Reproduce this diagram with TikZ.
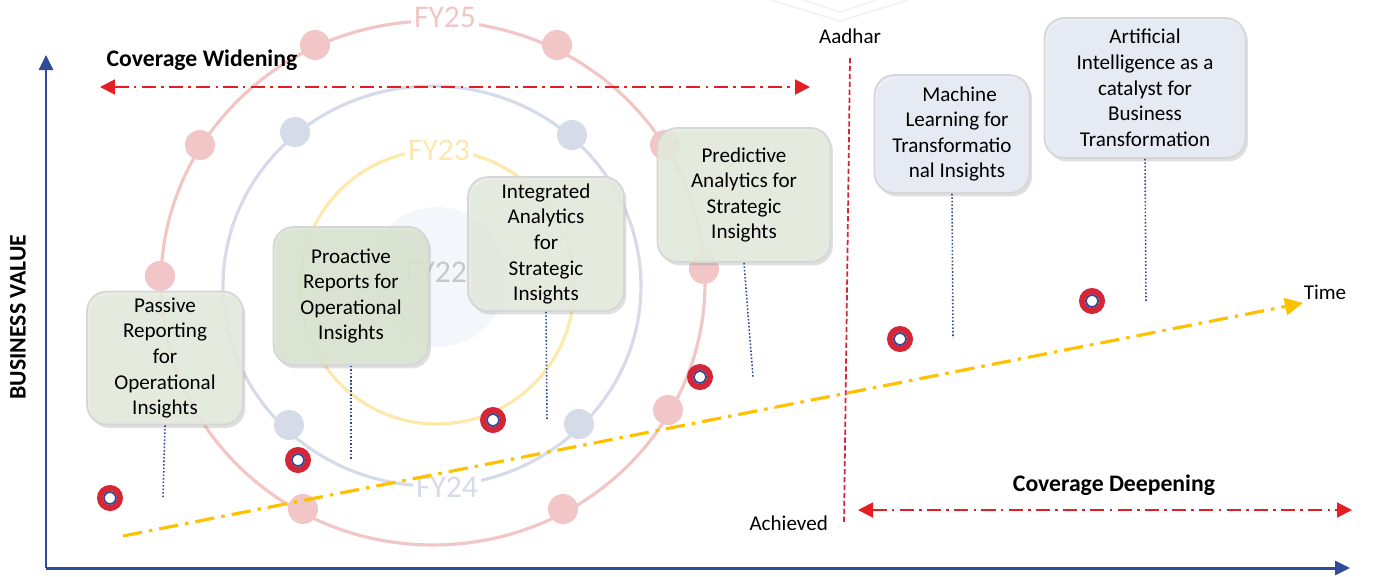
\documentclass[tikz,border=0pt]{standalone}
\usepackage{fontspec}
\setmainfont{Carlito}
\usepackage{tikz}
\usetikzlibrary{arrows.meta, positioning, shadows, calc}

\definecolor{ringred}{HTML}{F2C6C6}
\definecolor{ringblue}{HTML}{D6DBEA}
\definecolor{ringyellow}{HTML}{FDE9AC}
\definecolor{coreblue}{HTML}{F3F7FC}
\definecolor{axisblue}{HTML}{2F4C9A}
\definecolor{spanred}{HTML}{E51E25}
\definecolor{timeyellow}{HTML}{FFC000}
\definecolor{markred}{HTML}{D42637}
\definecolor{greenbox}{HTML}{E5ECDF}
\definecolor{greenboxdark}{HTML}{DBE5D1}
\definecolor{bluebox}{HTML}{E8ECF7}
\definecolor{boxline}{HTML}{D6D6D6}

\begin{document}
\begin{tikzpicture}[
    x=0.02cm, y=-0.02cm,
    block/.style={rectangle, draw=boxline, line width=1pt, fill=greenbox, fill opacity=0.88, text opacity=1, rounded corners=0.4cm, align=center, font={\fontsize{12}{14.6}\selectfont}, drop shadow={shadow xshift=0.05cm, shadow yshift=-0.07cm, opacity=0.25}},
    ring/.style={draw=#1, line width=1.8pt},
    ringdot/.style={circle, fill=#1, minimum size=0.6cm, inner sep=0pt},
    ringlabel/.style={text=#1, fill=white, inner sep=1.5pt, font={\fontsize{18}{20}\selectfont}},
    milestone/.style={circle, draw=markred, line width=3.4pt, fill=white, minimum size=0.4cm, inner sep=0pt, path picture={\draw[axisblue, line width=1.1pt] (path picture bounding box.center) circle (0.12cm);}},
    heading/.style={font={\bfseries\fontsize{13.5}{16}\selectfont}},
    plain/.style={font={\fontsize{12}{14}\selectfont}},
    axis/.style={axisblue, line width=1.7pt, -{Triangle[length=0.3cm, width=0.28cm]}},
    span/.style={spanred, line width=1.1pt, dash pattern=on 8pt off 3pt on 1.5pt off 3pt, {Triangle[length=0.3cm, width=0.3cm]}-{Triangle[length=0.3cm, width=0.3cm]}},
    timeline/.style={timeyellow, line width=1.8pt, dash pattern=on 11pt off 4pt on 2pt off 4pt, -{Triangle[length=0.36cm, width=0.34cm]}},
    vline/.style={markred, line width=1pt, dash pattern=on 3pt off 1.5pt},
    link/.style={axisblue, line width=0.9pt, dash pattern=on 0.9pt off 1.1pt}
]
    \useasboundingbox (0,0) rectangle (1392,576);

    % faint mark at the top
    \draw[black!5, line width=1pt] (770,0) -- (840,21) -- (908,0);
    \draw[black!5, line width=1pt] (803,0) -- (840,12) -- (877,0);

    % Rings
    \fill[coreblue] (437,277) circle (1.4cm);
    \draw[ring=ringred] (433,283) ellipse [x radius=5.44cm, y radius=5.24cm];
    \draw[ring=ringblue] (432,286) ellipse [x radius=4.18cm, y radius=4cm];
    \draw[ring=ringyellow] (437,287) circle (2.74cm);

    \node[ringlabel=ringred] (fy25) at (445,17) {FY25};
    \node[ringlabel=ringyellow] (fy23) at (439,150) {FY23};
    \node[ringlabel=ringblue] (fy24) at (447,487) {FY24};
    \node[ringlabel=black!22, fill=none] (fy22) at (436,272) {FY22};

    % Ring dots
    \node[ringdot=ringred] (p1) at (315,45) {};
    \node[ringdot=ringred] (p2) at (557,45) {};
    \node[ringdot=ringred] (p3) at (200,145) {};
    \node[ringdot=ringred] (p4) at (160,276) {};
    \node[ringdot=ringred] (p5) at (665,145) {};
    \node[ringdot=ringred] (p6) at (704,269) {};
    \node[ringdot=ringred] (p7) at (668,410) {};
    \node[ringdot=ringred] (p8) at (303,509) {};
    \node[ringdot=ringred] (p9) at (563,509) {};
    \node[ringdot=ringblue] (b1) at (295,132) {};
    \node[ringdot=ringblue] (b2) at (572,135) {};
    \node[ringdot=ringblue] (b3) at (289,425) {};
    \node[ringdot=ringblue] (b4) at (579,424) {};

    % Time line
    \coordinate (tstart) at (123,536);
    \coordinate (tend) at (1303,303);
    \draw[timeline] (tstart) -- (tend);
    \node[plain] (time) at (1325,292) {Time};

    % Aadhar marker line
    \coordinate (atop) at (850,58);
    \coordinate (abot) at (844,523);
    \draw[vline] (atop) -- (abot);
    \node[plain] (aadhar) at (850,36) {Aadhar};
    \node[plain, left=0.2cm of abot] (achieved) {Achieved};

    % Coverage spans
    \coordinate (wleft) at (100,87);
    \coordinate (wright) at (810,87);
    \draw[span] (wleft) -- (wright);
    \node[heading] (widening) at (202,60) {Coverage Widening};
    \coordinate (dleft) at (858,510);
    \coordinate (dright) at (1352,510);
    \draw[span] (dleft) -- (dright);
    \node[heading] (deepening) at (1114,485) {Coverage Deepening};

    % Axes
    \coordinate (origin) at (46,568);
    \coordinate (ytip) at (46,55);
    \coordinate (xtip) at (1350,568);
    \draw[axis] (origin) -- (ytip);
    \draw[axis] (origin) -- (xtip);
    \node[heading, rotate=90] (bvalue) at (18,317) {BUSINESS VALUE};

    % Stages
    \node[block, minimum width=3.12cm, minimum height=2.66cm] (passive) at (165,358) {Passive\\Reporting\\for\\Operational\\Insights};
    \node[block, fill=greenboxdark, minimum width=3.1cm, minimum height=2.76cm] (proactive) at (351,296) {Proactive\\Reports for\\Operational\\Insights};
    \node[block, minimum width=3.12cm, minimum height=2.68cm] (integrated) at (546,244) {Integrated\\Analytics\\for\\Strategic\\Insights};
    \node[block, minimum width=3.46cm, minimum height=2.68cm] (predictive) at (744,195) {Predictive\\Analytics for\\Strategic\\Insights};
    \node[block, fill=bluebox, minimum width=3.1cm, minimum height=2.36cm] (machine) at (952,134) {\hspace*{0.3cm}Machine\\\hspace*{0.2cm}Learning for\\Transformatio\\\hspace*{0.2cm}nal Insights};
    \node[block, fill=bluebox, minimum width=4.02cm, minimum height=2.8cm] (artificial) at (1145,88) {Artificial\\Intelligence as a\\catalyst for\\Business\\Transformation};

    % Links
    \coordinate (passiveend) at (163,498);
    \coordinate (proactiveend) at (351,460);
    \coordinate (integratedend) at (547,420);
    \coordinate (predictiveend) at (753,377);
    \coordinate (machineend) at (953,338);
    \coordinate (artificialend) at (1146,302);
    \draw[link] (passive.south) -- (passiveend);
    \draw[link] (proactive.south) -- (proactiveend);
    \draw[link] (integrated.south) -- (integratedend);
    \draw[link] (predictive.south) -- (predictiveend);
    \draw[link] (machine.south) -- (machineend);
    \draw[link] (artificial.south) -- (artificialend);

    % Milestones
    \node[milestone] (m1) at (110,498) {};
    \node[milestone] (m2) at (298,460) {};
    \node[milestone] (m3) at (493,420) {};
    \node[milestone] (m4) at (700,377) {};
    \node[milestone] (m5) at (900,339) {};
    \node[milestone] (m6) at (1092,301) {};

\end{tikzpicture}
\end{document}
